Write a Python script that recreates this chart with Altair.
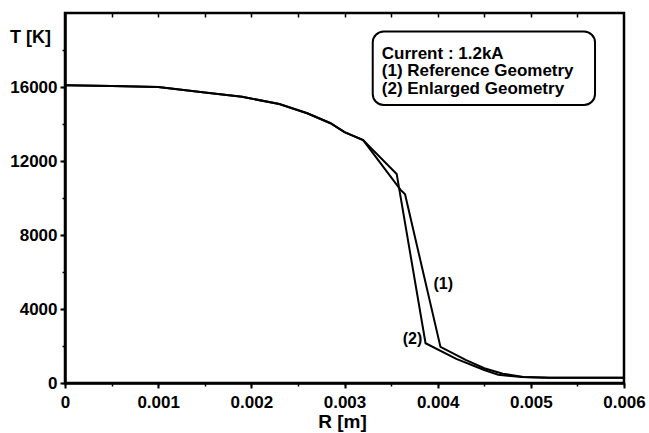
import altair as alt
import pandas as pd

# Radial temperature profiles, R in metres, T in kelvin
r_ref = [0.0, 0.0005, 0.001, 0.0015, 0.0019, 0.0023, 0.0026, 0.00285, 0.003, 0.0032,
         0.0036, 0.00365, 0.00403, 0.0043, 0.0045, 0.0047, 0.00492, 0.0052, 0.006]
t_ref = [16090, 16050, 16000, 15700, 15470, 15080, 14580, 14040, 13560, 13130,
         10450, 10200, 1950, 1250, 800, 500, 330, 290, 280]

r_enl = [0.0, 0.0005, 0.001, 0.0015, 0.0019, 0.0023, 0.0026, 0.00285, 0.003, 0.0032,
         0.00356, 0.00387, 0.0042, 0.0045, 0.00465, 0.0049, 0.0052, 0.006]
t_enl = [16090, 16050, 16000, 15700, 15470, 15080, 14580, 14040, 13560, 13130,
         11300, 2150, 1300, 700, 450, 320, 290, 280]

# Curve tags placed next to the steep parts
tag_text = ["(1)", "(2)"]
tag_r = [0.00406, 0.00373]
tag_t = [5330, 2400]

# Annotation box (data units) and its lines of text
box_r = [0.003303]
box_r2 = [0.005689]
box_t = [19000]
box_t2 = [15030]
note_text = ["Current : 1.2kA", "(1) Reference Geometry", "(2) Enlarged Geometry"]
note_r = [0.0034, 0.0034, 0.0034]
note_t = [17810, 16860, 15890]

x_major = [0, 0.001, 0.002, 0.003, 0.004, 0.005, 0.006]
x_minor = [0, 0.0005, 0.001, 0.0015, 0.002, 0.0025, 0.003, 0.0035, 0.004,
           0.0045, 0.005, 0.0055, 0.006]
y_major = [0, 4000, 8000, 12000, 16000]
y_minor = [0, 2000, 4000, 6000, 8000, 10000, 12000, 14000, 16000, 18000]

curves = pd.concat([
    pd.DataFrame({"R": r_ref, "T": t_ref, "series": "Reference Geometry"}),
    pd.DataFrame({"R": r_enl, "T": t_enl, "series": "Enlarged Geometry"}),
])
tags = pd.DataFrame({"label": tag_text, "R": tag_r, "T": tag_t})
box = pd.DataFrame({"R": box_r, "R2": box_r2, "T": box_t, "T2": box_t2})
notes = pd.DataFrame({"label": note_text, "R": note_r, "T": note_t})

TICK_FONT = "Liberation Sans, Arial"
FONT = "Liberation Sans, Arial"

x_scale = alt.Scale(domain=[0, 0.006], nice=False, zero=False)
y_scale = alt.Scale(domain=[0, 20000], nice=False)

x_main_axis = alt.Axis(
    values=x_major, format="~g", orient="bottom", grid=False,
    tickSize=5, tickWidth=2, tickColor="black",
    domainColor="black", domainWidth=2.5,
    labelFont=TICK_FONT, labelFontSize=17, labelFontWeight="bold",
    labelColor="black", labelPadding=6, labelFlush=False,
    title="R [m]", titleFont=FONT, titleFontSize=19, titleFontWeight="bold",
    titleColor="black", titleX=277, titleY=38, titleAnchor="start",
    titleAlign="center", titleBaseline="middle",
)
y_main_axis = alt.Axis(
    values=y_major, format="d", orient="left", grid=False,
    tickSize=5, tickWidth=2, tickColor="black",
    domainColor="black", domainWidth=2.5,
    labelFont=TICK_FONT, labelFontSize=17, labelFontWeight="bold",
    labelColor="black", labelPadding=3,
    title="T [K]", titleFont=FONT, titleFontSize=18, titleFontWeight="bold",
    titleColor="black", titleAngle=0, titleX=-35, titleY=24,
    titleAlign="center", titleBaseline="middle",
)

lines = alt.Chart(curves).mark_line(color="black", strokeWidth=2).encode(
    x=alt.X("R:Q", scale=x_scale, axis=x_main_axis),
    y=alt.Y("T:Q", scale=y_scale, axis=y_main_axis),
    detail="series:N",
)

# Minor ticks on the bottom and left axes
minor = alt.Chart(curves).mark_point(opacity=0).encode(
    x=alt.X("R:Q", scale=x_scale, axis=alt.Axis(
        values=x_minor, orient="bottom", labels=False, domain=False, grid=False,
        tickSize=3, tickWidth=1.5, tickColor="black", title=None)),
    y=alt.Y("T:Q", scale=y_scale, axis=alt.Axis(
        values=y_minor, orient="left", labels=False, domain=False, grid=False,
        tickSize=3, tickWidth=1.5, tickColor="black", title=None)),
)

# Inward ticks hanging from the top frame
top_ticks = alt.Chart(curves).mark_point(opacity=0).encode(
    x=alt.X("R:Q", scale=x_scale, axis=alt.Axis(
        values=x_minor[1:-1], orient="top", labels=False, domain=False, grid=False,
        offset=-4, tickSize=4, tickWidth=1.5, tickColor="black", title=None)),
    y=alt.Y("T:Q", scale=y_scale, axis=None),
)

tag_layer = alt.Chart(tags).mark_text(
    font=FONT, fontSize=16, fontWeight="bold", color="black",
    align="center", baseline="middle",
).encode(
    x=alt.X("R:Q", scale=x_scale, axis=None),
    y=alt.Y("T:Q", scale=y_scale, axis=None),
    text="label:N",
)

box_layer = alt.Chart(box).mark_rect(
    fill="white", stroke="black", strokeWidth=2, cornerRadius=11,
).encode(
    x=alt.X("R:Q", scale=x_scale, axis=None), x2="R2:Q",
    y=alt.Y("T:Q", scale=y_scale, axis=None), y2="T2:Q",
)

note_layer = alt.Chart(notes).mark_text(
    font=FONT, fontSize=17, fontWeight="bold", color="black",
    align="left", baseline="middle",
).encode(
    x=alt.X("R:Q", scale=x_scale, axis=None),
    y=alt.Y("T:Q", scale=y_scale, axis=None),
    text="label:N",
)

chart = (
    alt.layer(lines, minor, top_ticks, tag_layer, box_layer, note_layer)
    .resolve_axis(x="independent", y="independent")
    .properties(
        width=559, height=370,
        autosize=alt.AutoSizeParams(type="none"),
        padding={"left": 65, "top": 13, "right": 25, "bottom": 50},
        background="white",
    )
    .configure_view(stroke="black", strokeWidth=2.5)
)

chart.save("out.html", embed_options={"renderer": "svg", "actions": False})
